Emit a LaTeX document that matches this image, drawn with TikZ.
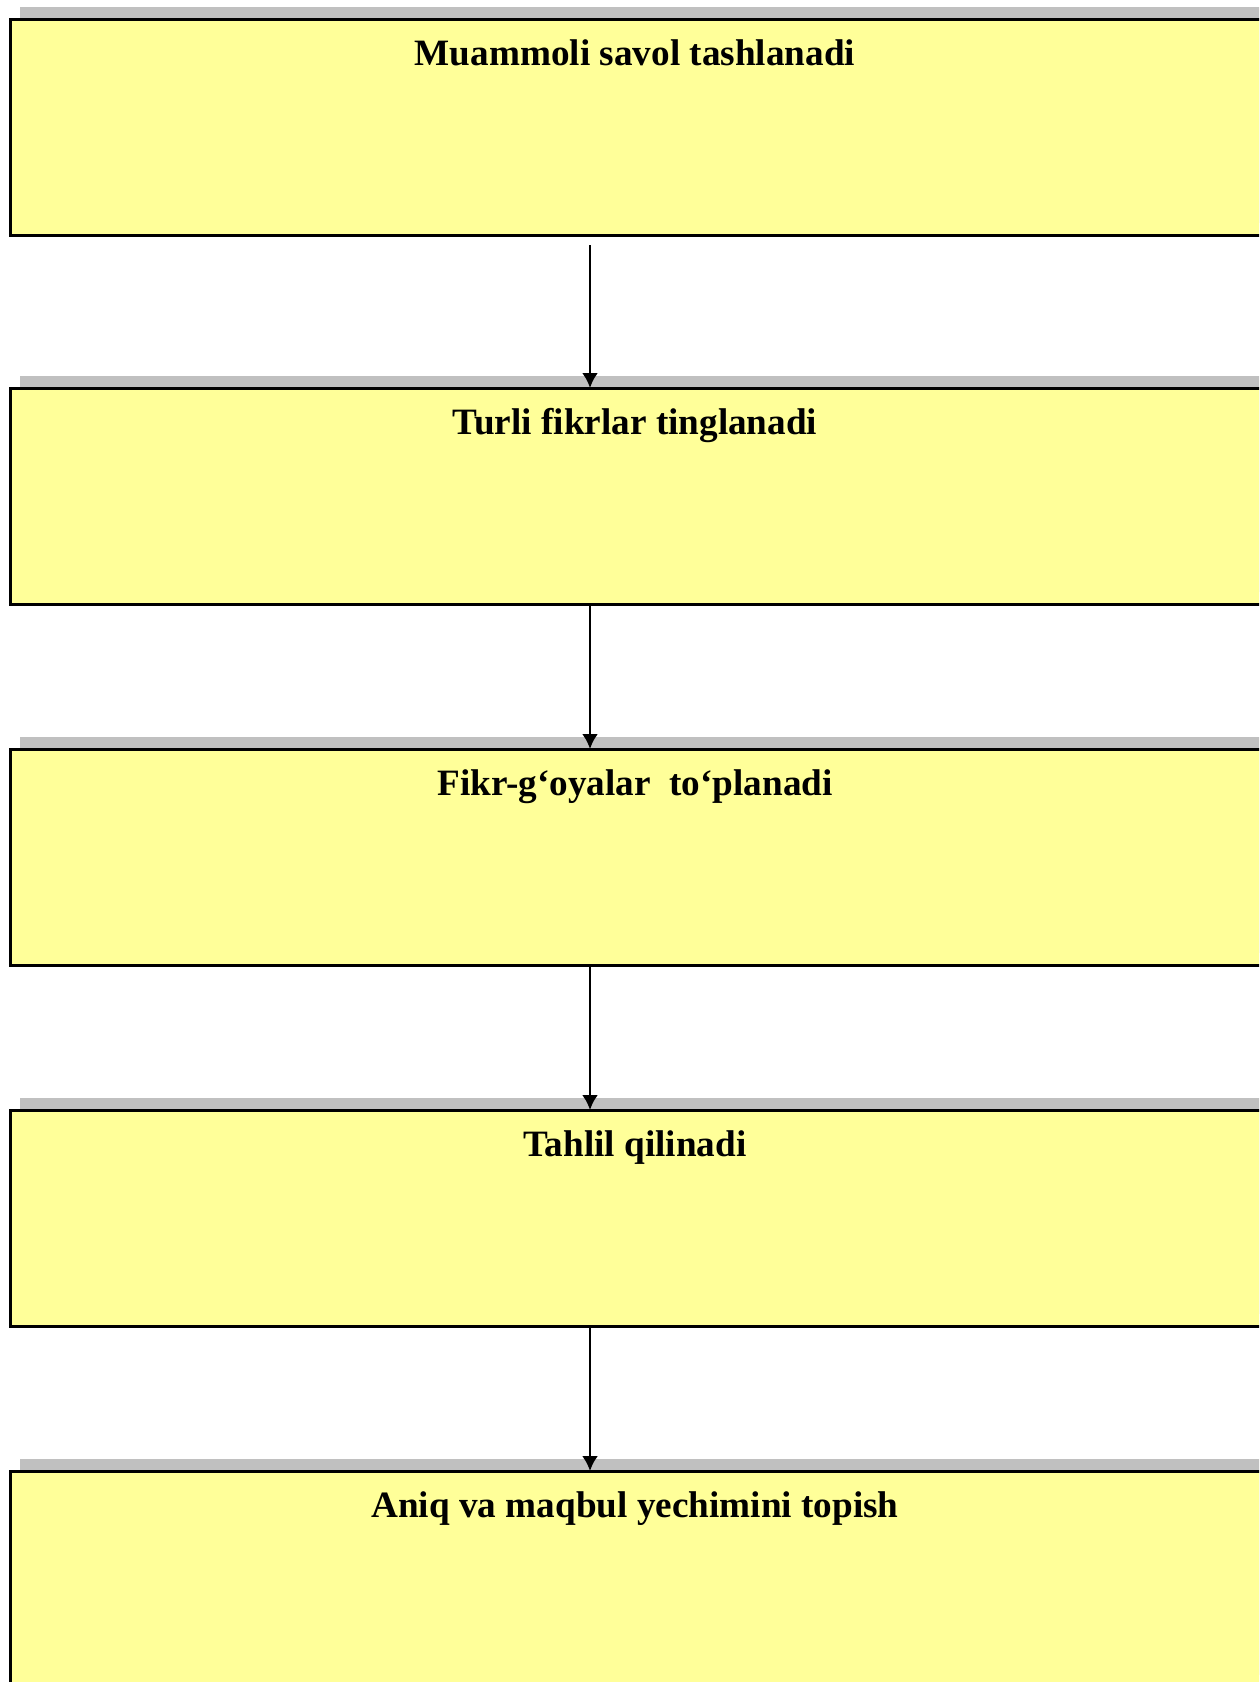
\documentclass[tikz,border=0pt]{standalone}
\usepackage{fontspec}
\setmainfont{Liberation Serif}
\usepackage{tikz}
\usetikzlibrary{arrows.meta}
\usetikzlibrary{positioning,shadows}
\definecolor{boxyellow}{HTML}{FFFF99}
\definecolor{shadowgrey}{HTML}{C0C0C0}

\begin{document}
\begin{tikzpicture}[x=0.5pt,y=-0.5pt]
\tikzstyle{stage}=[rectangle, draw=black, line width=1.5pt, fill=boxyellow, minimum width=650pt, minimum height=108pt, outer sep=0pt, node distance=72.5pt, drop shadow={shadow xshift=5pt, shadow yshift=6pt, fill=shadowgrey, opacity=1}]
\tikzstyle{connect}=[-{Latex[length=7.5pt,width=8pt]}, line width=1.3pt]
\tikzstyle{caption}=[anchor=base, inner sep=0pt, font=\bfseries\fontsize{18.6pt}{22pt}\selectfont]
  \useasboundingbox (0,0) rectangle (1259,1682);
  \clip (0,0) rectangle (1259,1682);
  \coordinate (axis) at (590,0);
  \coordinate (mid) at (635,0);
  \node[stage, anchor=north west] (ask) at (10,19) {};
  \node[stage] (hear) [below=76.5pt of ask] {};
  \node[stage] (collect) [below=of hear] {};
  \node[stage] (analyse) [below=of collect] {};
  \node[stage] (solve) [below=of analyse] {};
  \path (ask.north -| mid) ++(0,46) node[caption] (askt) {Muammoli savol tashlanadi};
  \path (hear.north -| mid) ++(0,46) node[caption] (heart) {Turli fikrlar tinglanadi};
  \path (collect.north -| mid) ++(0,46) node[caption] (collectt) {Fikr-g‘oyalar\ \ to‘planadi};
  \path (analyse.north -| mid) ++(0,46) node[caption] (analyset) {Tahlil qilinadi};
  \path (solve.north -| mid) ++(0,46) node[caption] (solvet) {Aniq va maqbul yechimini topish};
  \draw[connect, shorten <=5pt] (ask.south -| axis) -- (hear.north -| axis);
  \draw[connect] (hear.south -| axis) -- (collect.north -| axis);
  \draw[connect] (collect.south -| axis) -- (analyse.north -| axis);
  \draw[connect] (analyse.south -| axis) -- (solve.north -| axis);
\end{tikzpicture}
\end{document}
